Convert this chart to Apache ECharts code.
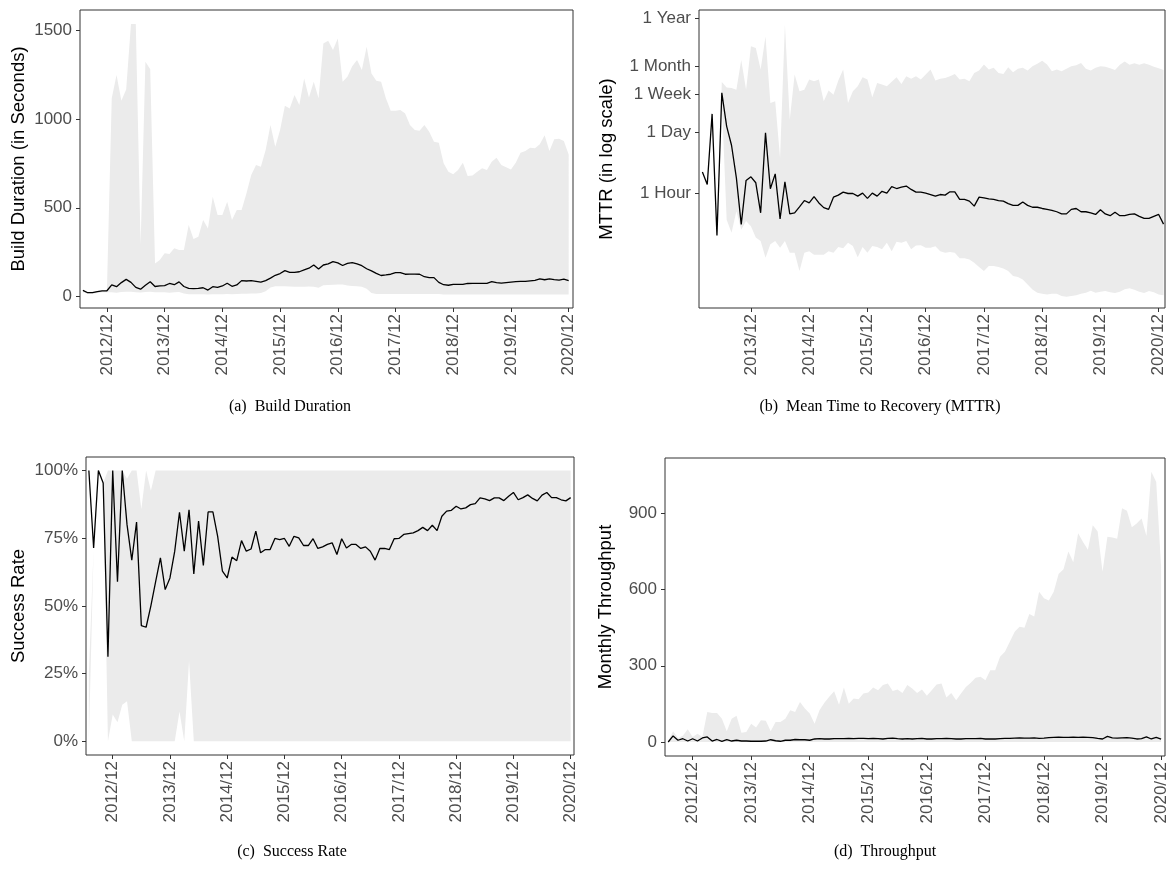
<!DOCTYPE html>
<html><head><meta charset="utf-8">
<script src="https://cdn.jsdelivr.net/npm/echarts@6/dist/echarts.min.js"></script>
<style>html,body{margin:0;padding:0;background:#fff}#c{width:1171px;height:869px}</style>
</head><body><div id="c"></div>
<script>
// Month index: 0 = 2012/12, 12 = 2013/12, ...
const startA = -5, startB = 2, startC = -5, startD = -5;
const yearTicks = [0, 12, 24, 36, 48, 60, 72, 84, 96];
const yearTicksB = [12, 24, 36, 48, 60, 72, 84, 96];

// (a) Build Duration (seconds)
const medA = [35,22,23,28,32, 33,66,56,79,97,80,52,42,64,84, 57,60,62,74,67,83,57,46,45,47, 50,37,56,52,60,75,58,66,90,88,
  90,86,82,90,104,120,130,146,137,137, 140,150,160,178,155,178,184,197,190,175, 187,191,184,174,157,145,131,119,122,126,
  135,135,126,127,127,126,112,107,107,80, 67,64,69,69,69,74,75,75,75,75, 84,79,76,79,82,84,86,86,89,92, 100,95,100,96,93,98,90];
const hiA = [38,26,27,31,35, 36, 1116,1247,1102,1166,1534,1534,290,1322,1279,187,206,244,240,272,262,262,403,324,337,431,384,562,459,459,
  534,431,487,487,581,684,741,731,825,966,844,937,1074,1059,1134,1078,1228,1121,1209,1116,1425,1440,1388,1453,1209,1237,1297,1331,1275,1406,
  1256,1215,1209,1116,1046,1046,1050,1031,966,937,934,966,928,872,866,750,703,688,712,754,679,681,703,722,712,759,782,741,728,716,
  754,810,820,838,835,857,908,820,885,889,876,800];
const loA = [25,15,16,20,24, 24, 25,22,26,28,27,25,23,26,27,24,24,25,22,24,26,18,
  14,13,13,14,12,13,14,14,15,14,15,16,16,17,18,20, 30, 52,58,58,58,57,56,55,56,57,55, 50, 64,66,67,68,68, 62,60,58,55, 45, 20,
  15,15,15,15,15,15,15,15,15,15,15,15,15,15,
  12,12,12,12,12,12,12,12,12,12,12,12,12,12,12,12,12,12,12,12,12,12,12,12,12,12,12];

// (b) MTTR (hours), from 2013/02
const medB = [3.0,1.56,61,0.111,182,32,12,2.2,0.197,1.93,2.33,1.71,0.36,22.8,1.25,2.72,0.263,1.8,0.34,0.36,
  0.49,0.68,0.60,0.83,0.60,0.47,0.43,0.81,0.90,1.05,0.98,0.98,0.855,1.0,0.76,1.0,0.855,1.1,1.0,1.4,
  1.27,1.36,1.44,1.21,1.05,1.05,1.0,0.93,0.855,0.93,0.90,1.07,1.07,0.72,0.72,0.66,0.51,0.81,0.78,0.74,
  0.72,0.68,0.66,0.58,0.53,0.53,0.63,0.53,0.48,0.48,0.45,0.43,0.41,0.38,0.34,0.34,0.43,0.45,0.38,0.38,
  0.36,0.33,0.42,0.34,0.31,0.37,0.31,0.31,0.33,0.34,0.30,0.27,0.27,0.30,0.33,0.20];
const hiB = [3.0,1.56,61,0.111,320,240,234,215,1000,215,2040,1870,610,3400,108,118,6.2,6300,45,470,
  197,215,362,333,362,118,205,166,345,610,108,197,257,407,362,145,303,280,257,322,
  408,290,430,380,430,362,470,610,345,380,396,430,487,362,380,333,510,580,790,610,
  666,510,487,690,530,640,666,580,720,820,970,790,560,610,560,640,720,760,860,640,
  580,666,720,710,655,600,780,925,780,850,780,850,780,710,650,600];
const loB = [3.0,1.56,61,0.111,120,0.25,0.128,0.39,0.15,0.234,0.18,0.1,0.083,0.035,0.07,0.083,0.059,0.083,0.045,0.045,
  0.0175,0.045,0.049,0.041,0.041,0.041,0.049,0.045,0.061,0.057,0.076,0.064,0.036,0.061,0.045,0.064,0.061,0.054,0.076,0.049,
  0.080,0.076,0.083,0.054,0.066,0.067,0.059,0.059,0.063,0.049,0.045,0.047,0.045,0.034,0.034,0.032,0.027,0.0215,0.0175,0.0226,
  0.0226,0.0215,0.020,0.0175,0.0135,0.0128,0.0113,0.0087,0.0067,0.0057,0.0054,0.0052,0.0054,0.0054,0.0048,0.0046,0.0048,0.005,0.0054,0.0057,
  0.0063,0.0057,0.0060,0.0062,0.0058,0.0056,0.0060,0.0068,0.0072,0.0066,0.0060,0.0056,0.0062,0.0058,0.0052,0.0050];
const mttrTickValues = [1, 24, 168, 730, 8760];
const mttrTickLabels = ['1 Hour', '1 Day', '1 Week', '1 Month', '1 Year'];

// (c) Success rate (%)
const medC = [100,71.4,100,95.4,31.2, 100,58.9,100,80,66.9,81,42.7,42.1,50,59, 67.7,56,60.3,70.2,84.6,70.2,85.5,61.8,81.3,64.9,
  84.7,84.7,75.7,62.8,60.3,68,66.7,74.1,70.2,71, 77.6,69.6,70.8,70.8,74.9,74.5,74.9,72,75.7,75.1,
  72.3,72.3,74.8,71.2,71.8,72.7,73.3,69,74.8,71.4, 72.7,72.7,71.2,71.8,70.2,66.9,71.2,71.2,70.8,74.8,
  74.9,76.4,76.7,77,77.8,79,77.8,79.8,77.8,83.1, 85,85.3,86.8,85.8,86.2,87.4,87.8,89.9,89.5,88.9,
  89.9,89.9,88.9,90.5,91.9,89.2,90,91,89.7,88.8, 90.9,91.9,90,90,89.2,88.8,90];
const hiC = [25,71.4,100,95.4,100, 100,100,100,97,100,100,85.7,100,92.5,100,
  100,100,100,100,100,100,100,100,100,100,100,100,100,100,100,100,100,100,100,100,100,100,100,100,100,100,100,100,100,100,
  100,100,100,100,100,100,100,100,100,100,100,100,100,100,100,100,100,100,100,100,100,100,100,100,100,100,100,100,100,100,
  100,100,100,100,100,100,100,100,100,100,100,100,100,100,100,100,100,100,100,100,100,100,100,100,100,100,100];
const loC = [0,71.4,100,95.4,0, 9.9,7,13.5,14.8,0,0,0,0,0,0, 0,0,0,0,11,0,29.6,0,0,0,
  0,0,0,0,0,0,0,0,0,0,0,0,0,0,0,0,0,0,0,0,0,0,0,0,0,0,0,0,0,0,0,0,0,0,0,0,0,0,0,0,0,0,0,0,0,0,0,0,0,0,
  0,0,0,0,0,0,0,0,0,0,0,0,0,0,0,0,0,0,0,0,0,0,0,0,0,0,0];
const pctTicks = [0, 25, 50, 75, 100];

// (d) Monthly throughput
const medD = [0,24,7,13,4, 13,4,16,20,4,10,3,9,4,7, 4,4,3,3,3,4,9,5,3,7, 7,10,9,9,7,12,13,12,12,13,
  13,13,14,13,14,14,13,14,13,12, 14,15,13,12,13,12,13,14,12,12, 13,13,14,13,12,12,13,13,13,14,
  12,12,12,13,14,14,15,16,15,15, 16,14,15,17,18,19,18,18,19,18, 19,18,17,14,12,22,16,15,16,17, 15,12,13,20,12,18,11];
const hiD = [5,42,16,25,50, 20,33,20,118,114,114,92,42,92,103, 37,39,72,57,86,84,42,79,79,92, 125,118,158,132,112,72,125,155,178,200,
  147,215,151,171,168,191,195,215,204,224, 230,201,207,193,224,211,193,207,182,204, 226,230,175,193,164,191,217,233,253,257,
  243,283,283,336,355,395,434,454,450,504, 494,592,566,557,592,661,680,750,708,822, 787,757,853,829,670,808,805,800,920,910,
  845,860,880,811,1064,1024,690];
const loD = medD.map(() => 0);

function months(start, n) { const a = []; for (let i = 0; i < n; i++) a.push(start + i); return a; }

const FONT = "'Liberation Sans', Arial, sans-serif";
const SERIF = "'Liberation Serif', 'DejaVu Serif', serif";
const BAND = '#ebebeb';
const LBL = '#4d4d4d';
const TICK_FS = 17, NAME_FS = 18.5;

function xAxisCfg(gi, min, max, ticks) {
  return {
    type: 'value', gridIndex: gi, min: min, max: max,
    axisLine: { show: false, onZero: false }, splitLine: { show: false },
    axisTick: { show: true, length: 4, lineStyle: { color: '#333' }, customValues: ticks },
    axisLabel: { rotate: 90, margin: 6, fontSize: TICK_FS, color: LBL, fontFamily: FONT, customValues: ticks,
      formatter: function (v) { return (2012 + Math.round(v / 12)) + '/12'; } }
  };
}
function yAxisCfg(gi, min, max, ticks, name, gap, fmt) {
  return {
    type: 'value', gridIndex: gi, min: min, max: max,
    axisLine: { show: false, onZero: false }, splitLine: { show: false },
    axisTick: { show: true, length: 4, lineStyle: { color: '#333' }, customValues: ticks },
    axisLabel: { margin: 8, fontSize: TICK_FS, color: LBL, fontFamily: FONT, customValues: ticks, formatter: fmt },
    name: name, nameLocation: 'middle', nameGap: gap,
    nameTextStyle: { fontSize: NAME_FS, color: '#000', fontFamily: FONT }
  };
}
function bandSeries(gi, xs, lo, hi) {
  const data = xs.map(function (x, i) { return [x, lo[i], hi[i]]; });
  return {
    type: 'custom', xAxisIndex: gi, yAxisIndex: gi, data: data, silent: true, animation: false,
    encode: { x: 0, y: [1, 2] }, clip: true, z: 1,
    renderItem: function (params, api) {
      if (params.dataIndex !== 0) return null;
      const top = data.map(function (d) { return api.coord([d[0], d[2]]); });
      const bot = data.map(function (d) { return api.coord([d[0], d[1]]); }).reverse();
      return { type: 'polygon', shape: { points: top.concat(bot) }, style: { fill: BAND, stroke: null } };
    }
  };
}
function lineSeries(gi, xs, ys) {
  return {
    type: 'line', xAxisIndex: gi, yAxisIndex: gi, showSymbol: false, symbol: 'none', animation: false, z: 3,
    data: xs.map(function (x, i) { return [x, ys[i]]; }),
    lineStyle: { color: '#000', width: 1.3 }
  };
}

const xsA = months(startA, medA.length), xsB = months(startB, medB.length),
      xsC = months(startC, medC.length), xsD = months(startD, medD.length);

const gridBase = { show: true, borderColor: '#333', borderWidth: 1, backgroundColor: 'transparent', containLabel: false, outerBoundsMode: 'none' };

const option = {
  backgroundColor: '#fff',
  animation: false,
  grid: [
    Object.assign({ left: 80, top: 10, width: 493, height: 298 }, gridBase),
    Object.assign({ left: 699, top: 10, width: 466, height: 298 }, gridBase),
    Object.assign({ left: 86, top: 457, width: 488, height: 298 }, gridBase),
    Object.assign({ left: 665, top: 458, width: 500, height: 298 }, gridBase)
  ],
  xAxis: [
    xAxisCfg(0, -5.6, 96.9, yearTicks),
    xAxisCfg(1, 1.3, 97.3, yearTicksB),
    xAxisCfg(2, -5.6, 96.7, yearTicks),
    xAxisCfg(3, -5.66, 96.8, yearTicks)
  ],
  yAxis: [
    yAxisCfg(0, -64, 1613, [0, 500, 1000, 1500], 'Build Duration (in Seconds)', 52, function (v) { return String(v); }),
    {
      type: 'log', logBase: 10, gridIndex: 1, min: 0.00257, max: 13430,
      axisLine: { show: false, onZero: false }, splitLine: { show: false }, minorTick: { show: false },
      axisTick: { show: true, length: 4, lineStyle: { color: '#333' }, customValues: mttrTickValues },
      axisLabel: { margin: 8, fontSize: TICK_FS, color: LBL, fontFamily: FONT, customValues: mttrTickValues,
        formatter: function (v) {
          let best = 0, bd = Infinity;
          mttrTickValues.forEach(function (t, i) { const d = Math.abs(Math.log(v) - Math.log(t)); if (d < bd) { bd = d; best = i; } });
          return mttrTickLabels[best];
        } },
      name: 'MTTR (in log scale)', nameLocation: 'middle', nameGap: 83,
      nameTextStyle: { fontSize: NAME_FS, color: '#000', fontFamily: FONT }
    },
    yAxisCfg(2, -5.1, 105, pctTicks, 'Success Rate', 58, function (v) { return v + '%'; }),
    yAxisCfg(3, -55, 1118, [0, 300, 600, 900], 'Monthly Throughput', 50, function (v) { return String(v); })
  ],
  series: [
    bandSeries(0, xsA, loA, hiA), lineSeries(0, xsA, medA),
    bandSeries(1, xsB, loB, hiB), lineSeries(1, xsB, medB),
    bandSeries(2, xsC, loC, hiC), lineSeries(2, xsC, medC),
    bandSeries(3, xsD, loD, hiD), lineSeries(3, xsD, medD)
  ],
  graphic: [
    { type: 'text', x: 290, y: 407, style: { text: '(a)\u2002Build Duration', fontSize: 16, fontFamily: SERIF, fill: '#000', align: 'center', verticalAlign: 'middle' } },
    { type: 'text', x: 880, y: 407, style: { text: '(b)\u2002Mean Time to Recovery (MTTR)', fontSize: 16, fontFamily: SERIF, fill: '#000', align: 'center', verticalAlign: 'middle' } },
    { type: 'text', x: 292, y: 852, style: { text: '(c)\u2002Success Rate', fontSize: 16, fontFamily: SERIF, fill: '#000', align: 'center', verticalAlign: 'middle' } },
    { type: 'text', x: 885, y: 852, style: { text: '(d)\u2002Throughput', fontSize: 16, fontFamily: SERIF, fill: '#000', align: 'center', verticalAlign: 'middle' } }
  ]
};

const chart = echarts.init(document.getElementById('c'), null, { renderer: 'canvas' });
chart.setOption(option);
</script>
</body></html>
